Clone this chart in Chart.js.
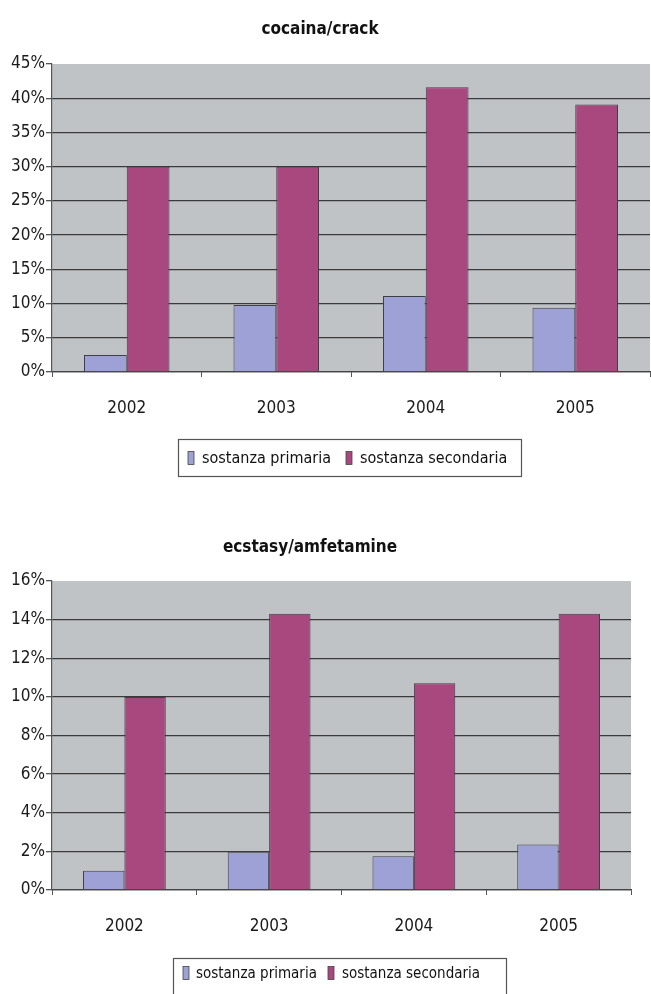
<!DOCTYPE html>
<html>
<head>
<meta charset="utf-8">
<script src="https://cdn.jsdelivr.net/npm/chart.js@4/dist/chart.umd.min.js"></script>
<style>
  html, body { margin: 0; padding: 0; background: #ffffff; }
  #page { position: relative; width: 651px; height: 994px; overflow: hidden; }
  canvas { position: absolute; left: 0; display: block; }
  #c1 { top: 0; }
  #c2 { top: 500px; }
</style>
</head>
<body>
<div id="page">
  <canvas id="c1" width="651" height="500"></canvas>
  <canvas id="c2" width="651" height="494"></canvas>
</div>
<script>
// Categories and series
const years = ['2002', '2003', '2004', '2005'];
const seriesLabels = ['sostanza primaria', 'sostanza secondaria'];

// cocaina/crack (% of users)
const cocainaPrimaria   = [2.5, 9.8, 11.1, 9.4];
const cocainaSecondaria = [30.0, 30.0, 41.6, 39.1];

// ecstasy/amfetamine (% of users)
const ecstasyPrimaria   = [1.0, 1.95, 1.75, 2.35];
const ecstasySecondaria = [10.0, 14.3, 10.7, 14.3];

// Value axis ranges
const cocainaAxis = { max: 45, step: 5 };
const ecstasyAxis = { max: 16, step: 2 };

const chartTitles = ['cocaina/crack', 'ecstasy/amfetamine'];

const COL_PRIMARIA = '#9ea1d5';
const COL_SECONDARIA = '#a8487f';
const FONT = '"DejaVu Sans Condensed", "DejaVu Sans", sans-serif';

// Grey plot background behind the bars
const plotBackground = {
  id: 'plotBackground',
  beforeDraw(chart) {
    const a = chart.chartArea, ctx = chart.ctx;
    ctx.save();
    ctx.fillStyle = '#c0c3c6';
    ctx.fillRect(a.left, a.top, a.right - a.left, a.bottom - a.top);
    ctx.restore();
  }
};

// Title text placed freely above the plot
const freeTitle = {
  id: 'freeTitle',
  afterDraw(chart, args, opts) {
    const ctx = chart.ctx;
    ctx.save();
    ctx.font = 'bold 17px ' + FONT;
    ctx.fillStyle = '#111';
    ctx.textAlign = 'center';
    ctx.textBaseline = 'middle';
    ctx.fillText(opts.text, opts.x, opts.y);
    ctx.restore();
  }
};

// Framed legend built from the datasets
const framedLegend = {
  id: 'framedLegend',
  afterDraw(chart, args, opts) {
    const ctx = chart.ctx;
    const b = opts.box;
    ctx.save();
    ctx.fillStyle = '#ffffff';
    ctx.fillRect(b.x, b.y, b.w, b.h);
    ctx.strokeStyle = '#555';
    ctx.lineWidth = 1.2;
    ctx.strokeRect(b.x + 0.5, b.y + 0.5, b.w, b.h);
    ctx.font = opts.fontSize + 'px ' + FONT;
    ctx.textBaseline = 'middle';
    ctx.textAlign = 'left';
    chart.data.datasets.forEach((ds, i) => {
      const sx = opts.swatchX[i];
      ctx.fillStyle = ds.backgroundColor;
      ctx.fillRect(sx, opts.cy - 6.5, 6, 13);
      ctx.strokeStyle = '#444';
      ctx.lineWidth = 0.8;
      ctx.strokeRect(sx, opts.cy - 6.5, 6, 13);
      ctx.fillStyle = '#111';
      ctx.fillText(ds.label, opts.textX[i], opts.cy + 1);
    });
    ctx.restore();
  }
};

function makeChart(canvasId, primaria, secondaria, axis, cfg) {
  return new Chart(document.getElementById(canvasId), {
    type: 'bar',
    data: {
      labels: years,
      datasets: [
        { label: seriesLabels[0], data: primaria, backgroundColor: COL_PRIMARIA,
          borderColor: '#3f3f46', borderWidth: 1, borderSkipped: 'bottom' },
        { label: seriesLabels[1], data: secondaria, backgroundColor: COL_SECONDARIA,
          borderColor: '#3f3f46', borderWidth: 1, borderSkipped: 'bottom' }
      ]
    },
    options: {
      responsive: false,
      animation: false,
      devicePixelRatio: 1,
      layout: { padding: cfg.padding },
      datasets: { bar: { categoryPercentage: 0.572, barPercentage: 1.0 } },
      scales: {
        x: {
          offset: true,
          grid: { offset: true, drawOnChartArea: false, drawTicks: true, tickLength: 5,
                  color: '#555', lineWidth: 1 },
          border: { display: true, color: '#444', width: 1.2 },
          ticks: { padding: 21, color: '#1a1a1a', font: { family: FONT, size: 17 } },
          afterFit(scale) { scale.height = 60; }
        },
        y: {
          min: 0,
          max: axis.max,
          ticks: {
            stepSize: axis.step,
            padding: 1,
            color: '#1a1a1a',
            font: { family: FONT, size: 17 },
            callback: v => v + '%'
          },
          grid: {
            drawOnChartArea: true,
            drawTicks: true,
            tickLength: 6,
            lineWidth: 1.3,
            color: c => (c.tick && c.tick.value === axis.max) ? 'rgba(0,0,0,0)' : '#3a3a3a',
            tickColor: '#555'
          },
          border: { display: true, color: '#555', width: 1.2 },
          afterFit(scale) { scale.width = 52; }
        }
      },
      plugins: {
        legend: { display: false },
        title: { display: false },
        tooltip: { enabled: false },
        freeTitle: cfg.title,
        framedLegend: cfg.legend
      }
    },
    plugins: [plotBackground, freeTitle, framedLegend]
  });
}

makeChart('c1', cocainaPrimaria, cocainaSecondaria, cocainaAxis, {
  padding: { top: 64, left: 0, right: 1, bottom: 68 },
  title: { text: chartTitles[0], x: 320, y: 30 },
  legend: { box: { x: 178, y: 439, w: 343, h: 37 }, cy: 458, fontSize: 16,
            swatchX: [188, 346], textX: [202, 360] }
});

makeChart('c2', ecstasyPrimaria, ecstasySecondaria, ecstasyAxis, {
  padding: { top: 81, left: 0, right: 20, bottom: 44 },
  title: { text: chartTitles[1], x: 310, y: 48 },
  legend: { box: { x: 173, y: 458, w: 333, h: 40 }, cy: 473, fontSize: 15,
            swatchX: [183, 328], textX: [196, 342] }
});
</script>
</body>
</html>
